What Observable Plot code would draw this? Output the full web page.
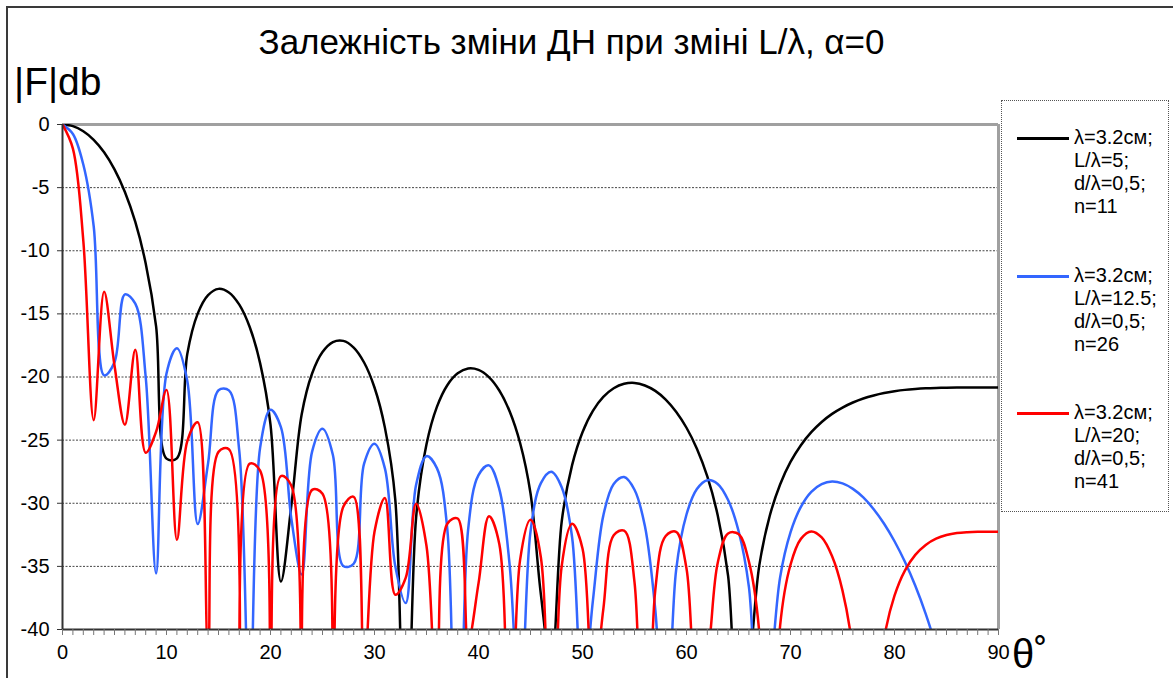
<!DOCTYPE html>
<html><head><meta charset="utf-8">
<script src="https://cdn.jsdelivr.net/npm/d3@7"></script>
<script src="https://cdn.jsdelivr.net/npm/@observablehq/plot@0.6"></script>
<style>
body{margin:0;background:#fff;font-family:"Liberation Sans",Arial,sans-serif;}
#wrap{position:relative;width:1173px;height:678px;overflow:hidden;background:#fff;}
.abs{position:absolute;white-space:nowrap;color:#000;}
.lg-line{position:absolute;height:3px;}
.lg-text{position:absolute;font-size:20px;line-height:23px;}
</style></head><body>
<div id="wrap">
<div class="abs" style="left:6px;top:6px;width:1300px;height:800px;border:2px solid #3a3a3a;box-sizing:border-box;"></div>
<div id="chart" class="abs" style="left:0;top:0"></div>
<div class="abs" id="title" style="left:0;width:1143px;text-align:center;top:24px;font-size:35px;line-height:35px;"></div>
<div class="abs" id="ylab" style="left:14px;top:62px;font-size:39px;line-height:39px;"></div>
<div class="abs" id="xlab" style="left:1012px;top:634px;font-size:40px;line-height:40px;"></div>
<div id="legend" class="abs" style="left:1001px;top:100px;width:168px;height:412px;border:1px dotted #555;box-sizing:border-box;"></div>
</div>
<script>
const titleText = "Залежність зміни ДН при зміні L/λ, α=0";
const yAxisTitle = "|F|db";
const xAxisTitle = "θ˚";

const theta = [0,1,2,3,4,5,6,7,8,9,10,11,12,13,14,15,16,17,18,19,20,21,22,23,24,25,26,27,28,29,30,31,32,33,34,35,36,37,38,39,40,41,42,43,44,45,46,47,48,49,50,51,52,53,54,55,56,57,58,59,60,61,62,63,64,65,66,67,68,69,70,71,72,73,74,75,76,77,78,79,80,81,82,83,84,85,86,87,88,89,90];

// n=11, L/λ=5
const black = [0,-0.13,-0.53,-1.21,-2.20,-3.55,-5.34,-7.72,-11.01,-15.99,-26.47,-26.44,-18.17,-14.98,-13.51,-13.02,-13.30,-14.27,-16.04,-18.90,-23.77,-36.20,-30.21,-22.95,-19.72,-18.02,-17.23,-17.14,-17.67,-18.85,-20.83,-24.01,-29.74,-55.41,-31.13,-25.33,-22.37,-20.65,-19.71,-19.33,-19.44,-20.01,-21.07,-22.73,-25.23,-29.21,-37.24,-43.07,-31.45,-26.98,-24.37,-22.68,-21.58,-20.89,-20.54,-20.47,-20.67,-21.10,-21.79,-22.75,-24.02,-25.68,-27.88,-30.95,-35.76,-47.10,-43.03,-34.92,-31.01,-28.51,-26.73,-25.40,-24.37,-23.56,-22.92,-22.42,-22.02,-21.70,-21.46,-21.27,-21.13,-21.02,-20.95,-20.90,-20.87,-20.85,-20.84,-20.83,-20.83,-20.83,-20.83];

// n=26, L/λ=12.5
const blue = [0,-0.75,-3.17,-8.06,-19.87,-18.83,-13.45,-14.19,-20.00,-35.56,-19.72,-17.72,-20.32,-31.65,-26.82,-21.05,-21.06,-25.88,-47.02,-25.61,-22.60,-23.97,-31.20,-35.65,-25.91,-24.10,-26.18,-34.97,-34.79,-26.87,-25.29,-27.24,-35.00,-37.91,-28.54,-26.27,-27.22,-32.05,-65.56,-32.11,-27.77,-27.00,-28.88,-34.94,-47.63,-32.25,-28.41,-27.51,-28.73,-32.69,-45.44,-37.72,-30.98,-28.47,-27.92,-28.93,-31.81,-38.45,-50.29,-35.31,-30.89,-28.87,-28.17,-28.47,-29.74,-32.18,-36.63,-47.82,-43.79,-35.87,-32.31,-30.28,-29.09,-28.48,-28.28,-28.43,-28.86,-29.54,-30.47,-31.62,-33.01,-34.64,-36.54,-38.76,-41.38,-44.51,-48.36,-53.35,-60.39,-72.44,-80];

// n=41, L/λ=20
const red = [0,-1.91,-9.19,-23.42,-13.25,-19.09,-23.78,-17.84,-26.00,-24.34,-21.02,-32.90,-25.07,-23.58,-41.55,-25.93,-25.72,-59.16,-26.86,-27.42,-55.35,-27.85,-28.60,-57.54,-28.94,-29.25,-55.84,-30.28,-29.49,-43.38,-32.26,-29.59,-37.25,-35.91,-30.04,-33.39,-46.48,-31.62,-31.21,-40.98,-36.35,-31.03,-33.23,-55.59,-34.49,-31.30,-34.30,-64.32,-34.98,-31.63,-33.58,-45.12,-38.40,-32.54,-32.17,-36.25,-68.52,-36.87,-32.59,-32.26,-35.17,-45.28,-42.27,-34.73,-32.39,-32.43,-34.62,-40.23,-65.02,-39.72,-34.87,-32.82,-32.23,-32.71,-34.20,-36.92,-41.73,-54.21,-48.02,-40.70,-37.32,-35.33,-34.09,-33.30,-32.81,-32.52,-32.36,-32.29,-32.26,-32.26,-32.26];

const seriesColors = ["#000000", "#3366ff", "#ff0000"];
const legendLabels = [
  ["λ=3.2см;", "L/λ=5;", "d/λ=0,5;", "n=11"],
  ["λ=3.2см;", "L/λ=12.5;", "d/λ=0,5;", "n=26"],
  ["λ=3.2см;", "L/λ=20;", "d/λ=0,5;", "n=41"]
];
const yTicks = [0,-5,-10,-15,-20,-25,-30,-35,-40];
const yGrid = [-5,-10,-15,-20,-25,-30,-35];
const xLabelStep = 10;

document.getElementById("title").textContent = titleText;
document.getElementById("ylab").textContent = yAxisTitle;
document.getElementById("xlab").textContent = xAxisTitle;

const seriesValues = [black, blue, red];
const lineMarks = seriesValues.map((vals, k) =>
  Plot.line(theta.map((t, i) => ({t, v: vals[i]})), {
    x: "t", y: "v", stroke: seriesColors[k], strokeWidth: 2.5,
    curve: "catmull-rom", clip: true, strokeLinejoin: "round"
  })
);

const chart = Plot.plot({
  width: 1173, height: 678,
  marginLeft: 62, marginRight: 175, marginTop: 124, marginBottom: 49,
  x: {domain: [0, 90], label: null},
  y: {domain: [-40, 0], label: null},
  style: {fontFamily: "'Liberation Sans', Arial, sans-serif", fontSize: "20px", color: "#000", background: "transparent", overflow: "visible"},
  marks: [
    Plot.ruleY(yGrid, {stroke: "#444", strokeDasharray: "2,1.5", strokeWidth: 1}),
    Plot.ruleY([0], {stroke: "#a0a0a0", strokeWidth: 3}),
    Plot.ruleX([90], {stroke: "#a0a0a0", strokeWidth: 3}),
    ...lineMarks,
    Plot.ruleX([0], {stroke: "#333", strokeWidth: 2}),
    Plot.ruleY([-40], {stroke: "#333", strokeWidth: 2}),
    Plot.axisY({ticks: yTicks, tickSize: 5, tickPadding: 8, tickFormat: d => String(d), stroke: "#333", fill: "#000"}),
    Plot.axisX({ticks: theta, tickSize: 6, tickPadding: 9, tickFormat: d => d % xLabelStep === 0 ? String(d) : "", stroke: "#777", fill: "#000"})
  ]
});
document.getElementById("chart").appendChild(chart);

const legend = document.getElementById("legend");
const entryTops = [137, 275, 412];
legendLabels.forEach((lines, k) => {
  const cy = entryTops[k] - 100;
  const ln = document.createElement("div");
  ln.className = "lg-line";
  ln.style.left = "15px"; ln.style.width = "52px";
  ln.style.top = (cy - 1.5) + "px";
  ln.style.background = seriesColors[k];
  legend.appendChild(ln);
  const tx = document.createElement("div");
  tx.className = "lg-text";
  tx.style.left = "72px";
  tx.style.top = (cy - 12.5) + "px";
  tx.innerHTML = lines.join("<br>");
  legend.appendChild(tx);
});
</script>
</body></html>
